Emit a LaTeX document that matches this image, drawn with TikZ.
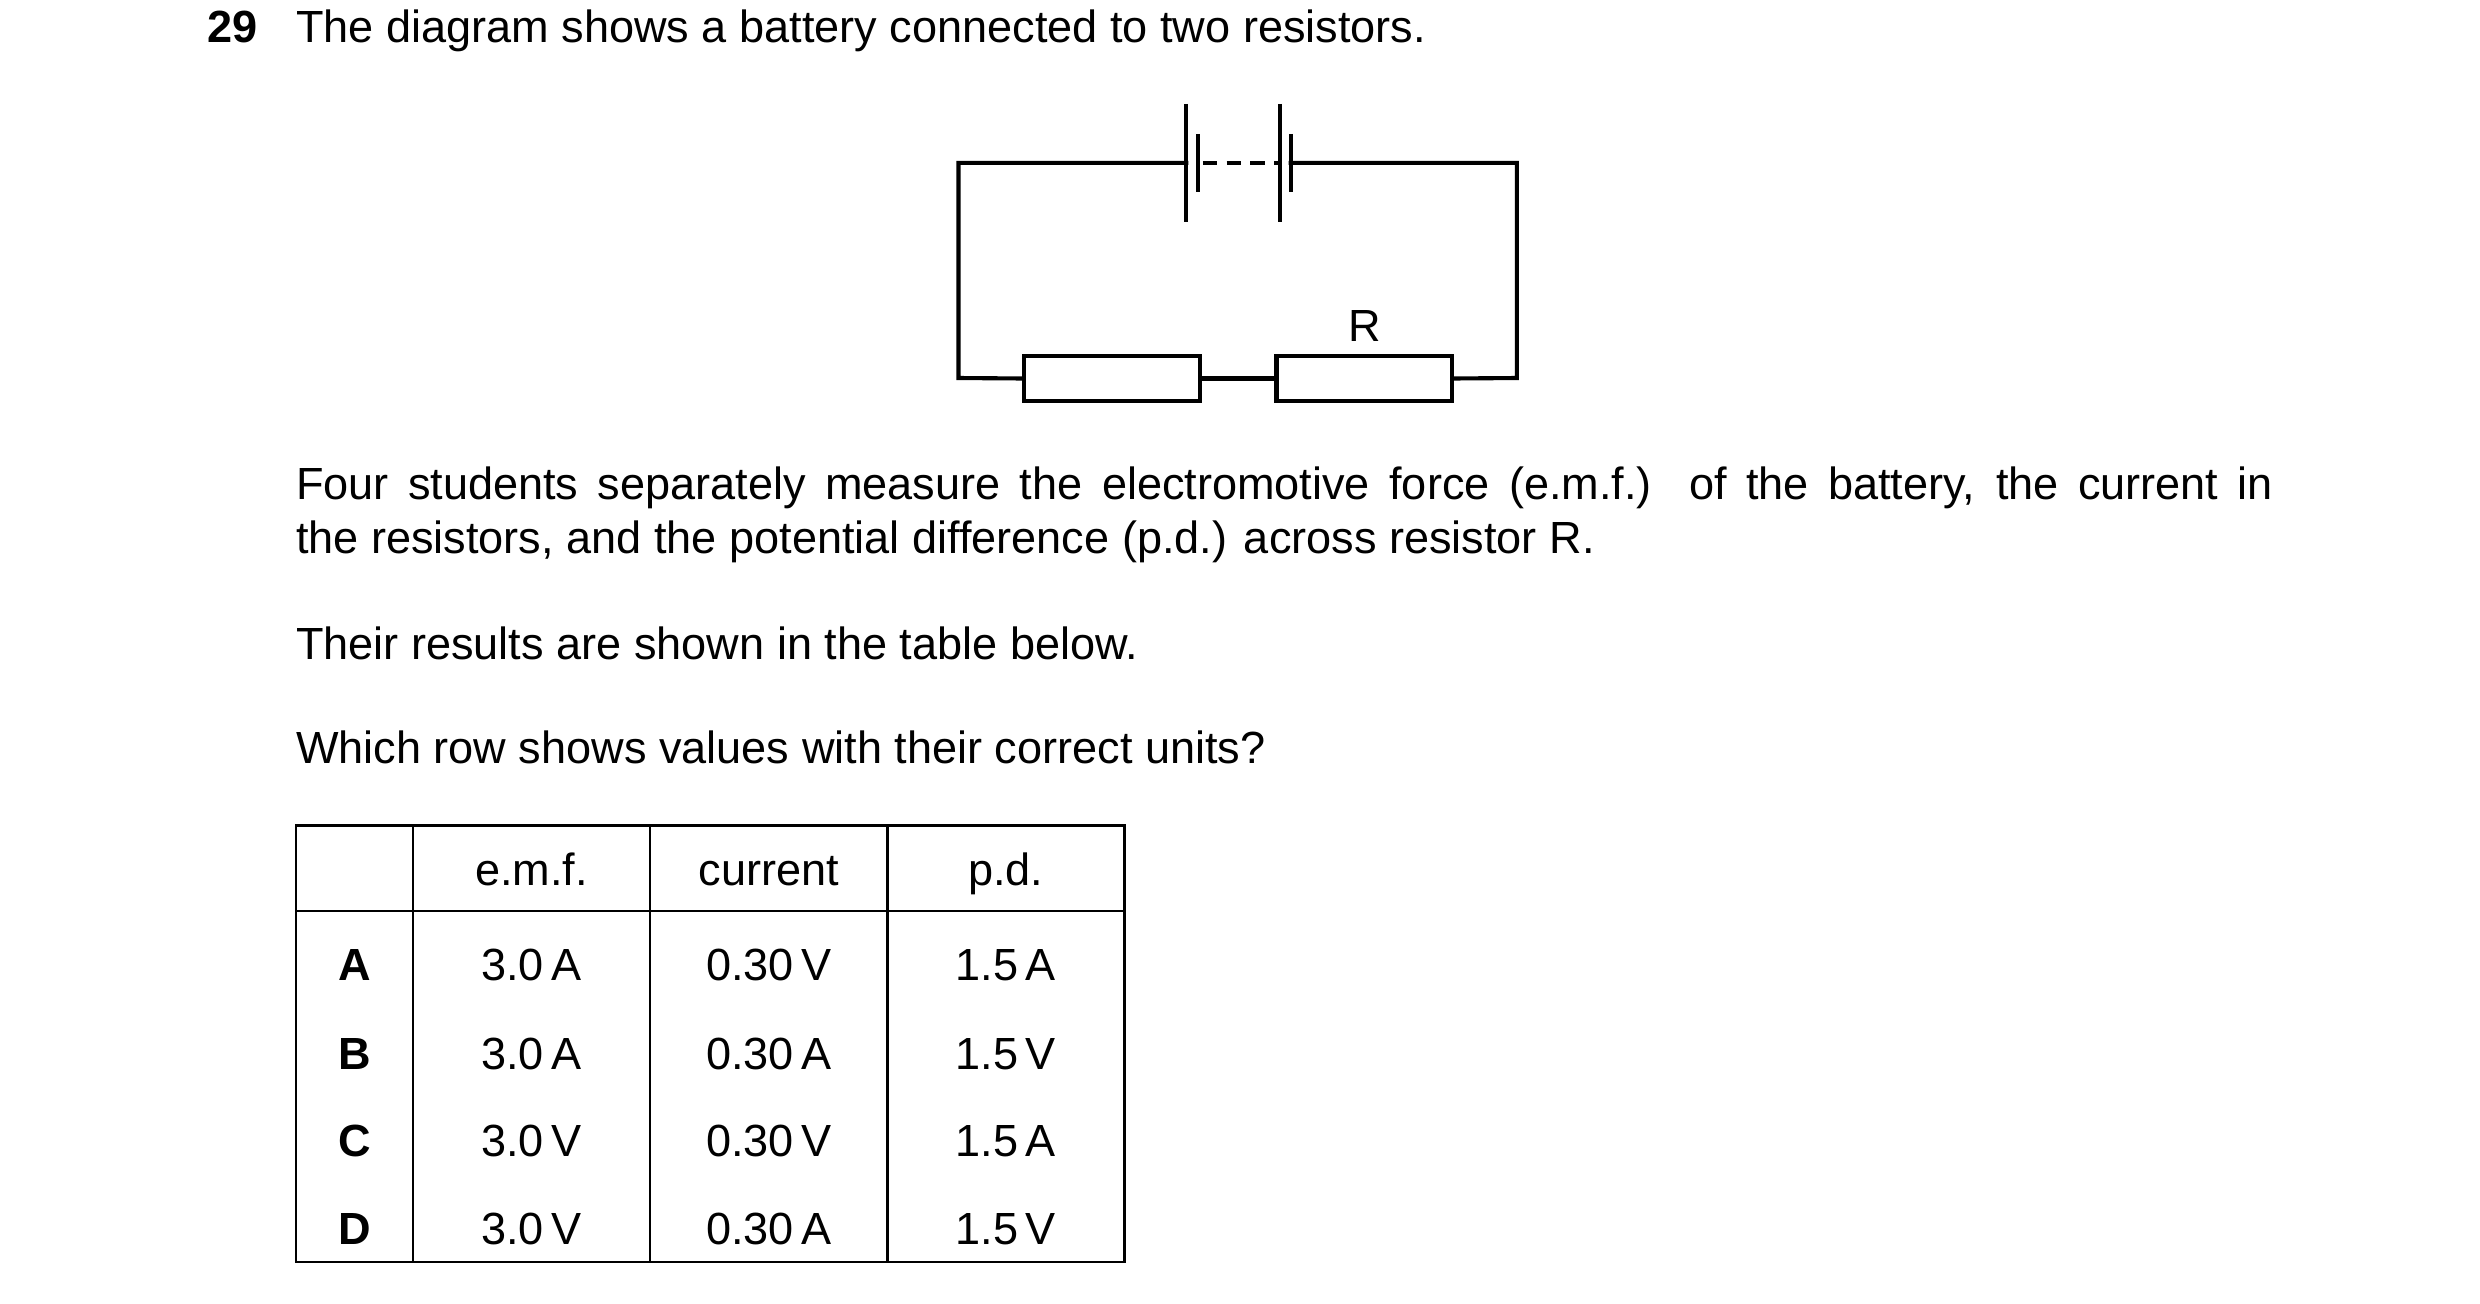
\documentclass[tikz,border=0pt]{standalone}
\usepackage{fontspec}
\setmainfont{Liberation Sans}
\begin{document}
\begin{tikzpicture}[x=1pt,y=-1pt,
  wire/.style={line width=2.6pt},
  grid/.style={line width=1.6pt},
  txt/.style={anchor=base west,inner sep=0pt,font=\fontsize{28.5}{34}\selectfont},
  cell/.style={anchor=base,inner sep=0pt,font=\fontsize{28.5}{34}\selectfont},
  res/.style={draw,line width=2.6pt,minimum width=111pt,minimum height=28pt,inner sep=0pt,fill=white}]
\useasboundingbox (0,0) rectangle (1568,824.4);
\node[txt,font=\fontsize{28.5}{34}\selectfont\bfseries] (qn) at (131,27) {29};
\node[txt] (q) at (187,27) {The diagram shows a battery connected to two resistors.};
% circuit
\coordinate (tl) at (606,103); \coordinate (tr) at (959,103);
\coordinate (bl) at (606,239); \coordinate (br) at (959,239);
\coordinate (p1) at (750,103); \coordinate (s1) at (757.5,103);
\coordinate (p2) at (809,103); \coordinate (s2) at (816,103);
\node[res] (r1) at (703,239.3) {};
\node[res] (r2) at (862.6,239.3) {};
\draw[wire,line cap=rect] (p1) -- (tl) -- (bl) -- (r1.west);
\draw[wire] (r1.east) -- (r2.west);
\draw[wire,line cap=rect] (r2.east) -- (br) -- (tr) -- (s2);
\draw[wire] (750,65.6) -- (750,140.6);
\draw[wire] (757.5,84.6) -- (757.5,121.6);
\draw[wire] (809,65.6) -- (809,140.6);
\draw[wire] (816,84.6) -- (816,121.6);
\draw[wire,dash pattern=on 9pt off 6pt,dash phase=-3pt] (s1) -- (p2);
\node[cell] (R) at (863,215.7) {R};
% paragraph
\node[txt] (t1) at (187,316) {\hbox to 1250pt{Four students separately measure the electromotive force (e.m.f.) of the battery, the current in}};
\node[txt] (t2) at (187,350) {the resistors, and the potential difference (p.d.) across resistor R.};
\node[txt] (t3) at (187,417) {Their results are shown in the table below.};
\node[txt] (t4) at (187,483) {Which row shows values with their correct units?};
% table
\draw[grid] (187,522) rectangle (711,798);
\draw[grid] (187,576) -- (711,576);
\foreach \x in {261,411,561} \draw[grid] (\x,522) -- (\x,798);
\node[cell] (h1) at (336,560) {e.m.f.};
\node[cell] (h2) at (486,560) {current};
\node[cell] (h3) at (636,560) {p.d.};
\foreach \l/\a/\b/\c/\y in {A/3.0\,A/0.30\,V/1.5\,A/620, B/3.0\,A/0.30\,A/1.5\,V/676, C/3.0\,V/0.30\,V/1.5\,A/731, D/3.0\,V/0.30\,A/1.5\,V/787}{
  \node[cell,font=\fontsize{28.5}{34}\selectfont\bfseries] (l\l) at (224,\y) {\l};
  \node[cell] (a\l) at (336,\y) {\a};
  \node[cell] (b\l) at (486,\y) {\b};
  \node[cell] (c\l) at (636,\y) {\c};
}
\end{tikzpicture}
\end{document}
